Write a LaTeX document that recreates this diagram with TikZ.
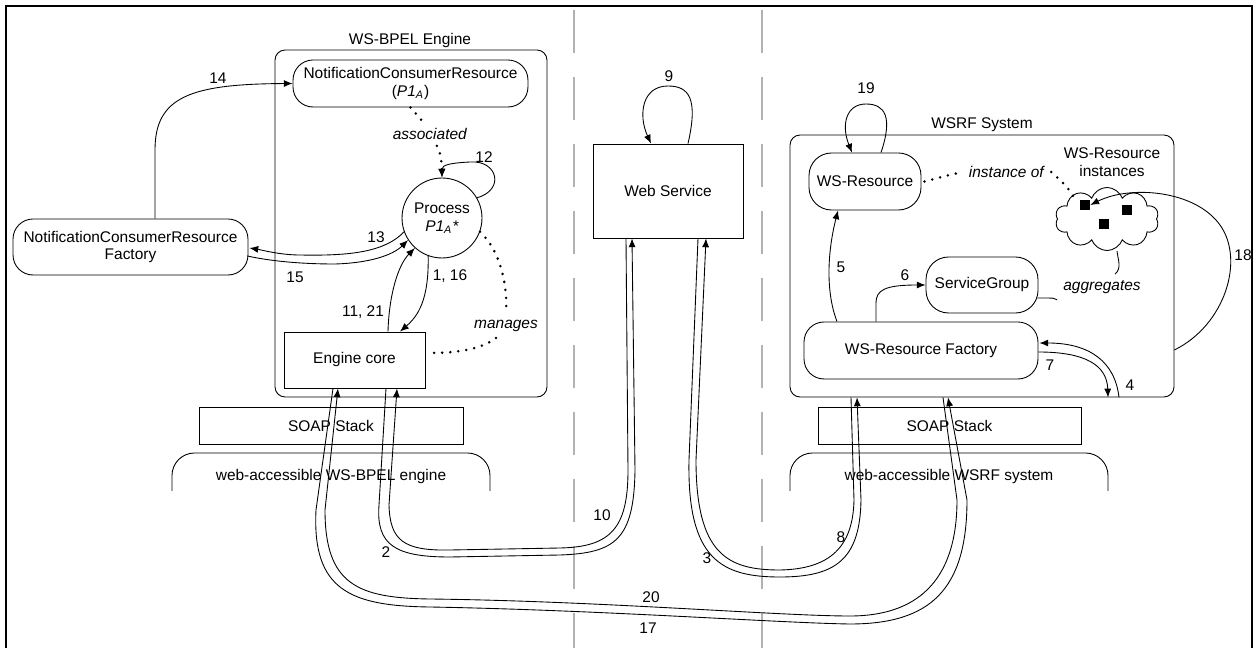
\documentclass[tikz,border=0pt]{standalone}
\usepackage{fontspec}
\setmainfont{Liberation Sans}
\usetikzlibrary{arrows.meta,calc,shapes.symbols}

\tikzset{
  box/.style={draw, line width=0.5pt, inner sep=0pt},
  pill/.style={box, rounded corners=0.4cm},
  dots/.style={line width=1.6pt, line cap=round, dash pattern=on 0pt off 4.6pt},
  flow/.style={line width=0.5pt, ->},
  sep/.style={black!30, line width=1.4pt, dash pattern=on 0.86cm off 0.48cm},
  frame/.style={line width=1.2pt},
  sq/.style={fill=black, minimum size=0.2cm, inner sep=0pt},
  >={Latex[length=5pt,width=4pt]}
}

\begin{document}
\begin{tikzpicture}[x=0.02cm, y=-0.02cm, font=\fontsize{8.8}{10.2}\selectfont]
        \useasboundingbox (0,0) rectangle (1255,648);
        \draw[frame] (6,650) -- (6,6) -- (1252,6) -- (1252,650);
        \draw[sep] (574,10) -- (574,650);
        \draw[sep] (762,10) -- (762,650);

        \node[box, rounded corners=0.2cm, minimum width=5.44cm, minimum height=6.94cm] (bpel) at (411,223.5) {};
        \node (bpelt) at (410,41) {WS-BPEL Engine};
        \node[pill, align=center, minimum width=4.7cm, minimum height=0.94cm] (ncr) at (410.5,83.5) {NotificationConsumerResource\\(\textit{P1\textsubscript{A}})};
        \node (assoc) at (430,134) {\textit{associated}};
        \node[box, circle, align=center, minimum size=1.6cm] (proc) at (442,218) {Process\\\textit{P1\textsubscript{A}*}};
        \node[pill, align=center, minimum width=4.7cm, minimum height=1.12cm] (ncrf) at (130.5,247) {NotificationConsumerResource\\Factory};
        \node[box, minimum width=2.82cm, minimum height=1.12cm] (core) at (354.5,360) {Engine core};
        \node (mng) at (506,326) {\textit{manages}};
        \node[box, minimum width=5.28cm, minimum height=0.74cm] (soapL) at (331,425.5) {SOAP Stack};
        \node (webL) at (331,477) {web-accessible WS-BPEL engine};
        \draw[line width=0.5pt, rounded corners=0.45cm] (172,491) -- (172,453) -- (490,453) -- (490,491);

        \node[box, minimum width=3cm, minimum height=1.88cm] (ws) at (668,191) {Web Service};

        \node[box, rounded corners=0.2cm, minimum width=7.68cm, minimum height=5.24cm] (wsrf) at (982,266) {};
        \node (wsrft) at (982,125) {WSRF System};
        \node[pill, rounded corners=0.45cm, minimum width=2.24cm, minimum height=1.14cm] (wsr) at (865,181.5) {WS-Resource};
        \node (inst) at (1007,172) {\textit{instance of}};
        \node[box, cloud, cloud puffs=10, cloud puff arc=140, cloud ignores aspect, inner xsep=0.7cm, inner ysep=0.31cm] (cloud) at (1107,219) {};
        \node[align=center] (cloudt) at (1112,162) {WS-Resource\\instances};
        \node[sq] (sq1) at (1085,205) {};
        \node[sq] (sq2) at (1127,210) {};
        \node[sq] (sq3) at (1104,224) {};
        \node[pill, rounded corners=0.45cm, minimum width=2.24cm, minimum height=1.12cm] (sg) at (982,285) {ServiceGroup};
        \node (agg) at (1102,287) {\textit{aggregates}};
        \node[pill, minimum width=4.68cm, minimum height=1.14cm] (fac) at (921,350.5) {WS-Resource Factory};
        \node[box, minimum width=5.26cm, minimum height=0.74cm] (soapR) at (949.5,425.5) {SOAP Stack};
        \node (webR) at (949,477) {web-accessible WSRF system};
        \draw[line width=0.5pt, rounded corners=0.45cm] (790,491) -- (790,453) -- (1108,453) -- (1108,491);

        \draw[dots] (ncr.south) -- (assoc.120);
        \draw[dots,->] (assoc.-60) .. controls (441,155) .. (proc.north);
        \draw[dots] (proc.-20) .. controls (500,250) and (508,285) .. (mng.north);
        \draw[dots] ($(mng.south)+(-10,0)$) .. controls (480,350) and (455,353) .. ($(core.east)+(3,-7)$);
        \draw[dots] ($(wsr.east)+(3,0)$) .. controls (945,176) .. (inst.west);
        \draw[dots] (inst.east) .. controls (1060,180) and (1072,190) .. ($(sq1.west)+(-4,-3)$);

        \draw[flow] ($(ncrf.north)+(24.5,0)$) -- (155,150) .. controls (155,97) and (190,84) .. (ncr.west);
        \draw[flow] (proc.-160) .. controls (385,252) and (350,256) .. (300,255) .. controls (280,255) and (262,250) .. ($(ncrf.east)+(1,1)$);
        \draw[flow] ($(ncrf.east)+(-1,9)$) .. controls (270,261) and (300,264) .. (335,264) .. controls (370,263) and (393,255) .. (proc.-147);
        \draw[flow] ($(core.north)+(33.5,0)$) .. controls (389,295) and (398,265) .. (proc.-132);
        \draw[flow] (proc.-110) .. controls (429,300) and (418,316) .. ($(core.north)+(45.5,0)$);
        \draw[flow] (proc.30) .. controls (505,190) and (498,160) .. (470,162) .. controls (450,163) and (442,165) .. (proc.north);

        \draw[flow] ($(ws.north)+(20,0)$) .. controls (698,100) and (690,86) .. (668,86) .. controls (642,86) and (638,115) .. ($(ws.north)+(-17,0)$);
        \draw[flow] ($(wsr.north)+(16,0)$) .. controls (893,117) and (885,104) .. (866,104) .. controls (846,104) and (841,125) .. ($(wsr.north)+(-13,0)$);
        \draw[flow] ($(fac.north)+(-84,0)$) .. controls (825,290) and (828,250) .. ($(wsr.south)+(-27,0)$);
        \draw[flow] ($(fac.north)+(-45,0)$) -- (876,303) .. controls (876,290) and (885,285) .. (sg.west);
        \draw[flow] ($(wsrf.south)+(137,0)$) .. controls (1115,362) and (1090,343) .. ($(fac.east)+(1,-7.5)$);
        \draw[flow] ($(fac.east)+(0,1.5)$) .. controls (1085,352) and (1107,365) .. ($(wsrf.south)+(126,0)$);
        \draw[flow] ($(wsrf.east)+(0,84)$) .. controls (1225,325) and (1245,260) .. (1220,225) .. controls (1195,190) and (1130,185) .. (sq1.east);
        \draw[line width=0.5pt] ($(sg.east)+(-1,13)$) .. controls (1055,298) .. (agg.south west);
        \draw[line width=0.5pt] ($(agg.north)+(13,0)$) .. controls (1122,268) and (1118,260) .. ($(cloud.south)+(10,0)$);

        \draw[flow] ($(core.south)+(31.5,0)$) -- (379,505) .. controls (376,545) and (395,557) .. (450,557) -- (560,555) .. controls (615,553) and (634,540) .. (635,470) -- ($(ws.south)+(-36,0)$);
        \draw[flow] ($(ws.south)+(-42,0)$) -- (628,470) .. controls (628,528) and (611,547) .. (560,548) -- (450,550) .. controls (403,551) and (390,540) .. (389,505) -- ($(core.south)+(42.5,0)$);
        \draw[flow] ($(ws.south)+(30,0)$) -- (689,460) .. controls (687,560) and (722,577) .. (780,577) .. controls (835,577) and (860,560) .. (861,500) -- ($(wsrf.south)+(-125,0)$);
        \draw[flow] ($(wsrf.south)+(-131,0)$) -- (854,500) .. controls (853,547) and (830,569) .. (780,570) .. controls (728,570) and (696,555) .. (696,460) -- ($(ws.south)+(38,0)$);
        \draw[flow] ($(core.south)+(-21.5,0)$) -- (316,510) .. controls (312,590) and (350,606) .. (430,607) .. controls (600,610) and (780,623) .. (850,624) .. controls (930,624) and (967,590) .. (967,500) -- ($(wsrf.south)+(-34,0)$);
        \draw[flow] ($(wsrf.south)+(-39,0)$) -- (957,500) .. controls (957,583) and (915,616) .. (850,616) .. controls (780,616) and (600,601) .. (430,599) .. controls (358,598) and (325,585) .. (325,510) -- ($(core.south)+(-16.5,0)$);

        \node (l14) at (218,78) {14};
        \node (l13) at (376,237) {13};
        \node (l15) at (295,277) {15};
        \node (l12) at (484,157) {12};
        \node (l116) at (450,276) {1, 16};
        \node (l1121) at (363,312) {11, 21};
        \node (l9) at (669,76) {9};
        \node (l19) at (866,88) {19};
        \node (l5) at (841,267) {5};
        \node (l6) at (905,275) {6};
        \node (l7) at (1050,365) {7};
        \node (l4) at (1130,385) {4};
        \node (l18) at (1243,255) {18};
        \node (l2) at (386,552) {2};
        \node (l10) at (602,515) {10};
        \node (l3) at (707,558) {3};
        \node (l8) at (841,537) {8};
        \node (l20) at (651,597) {20};
        \node (l17) at (648,628) {17};
\end{tikzpicture}
\end{document}
